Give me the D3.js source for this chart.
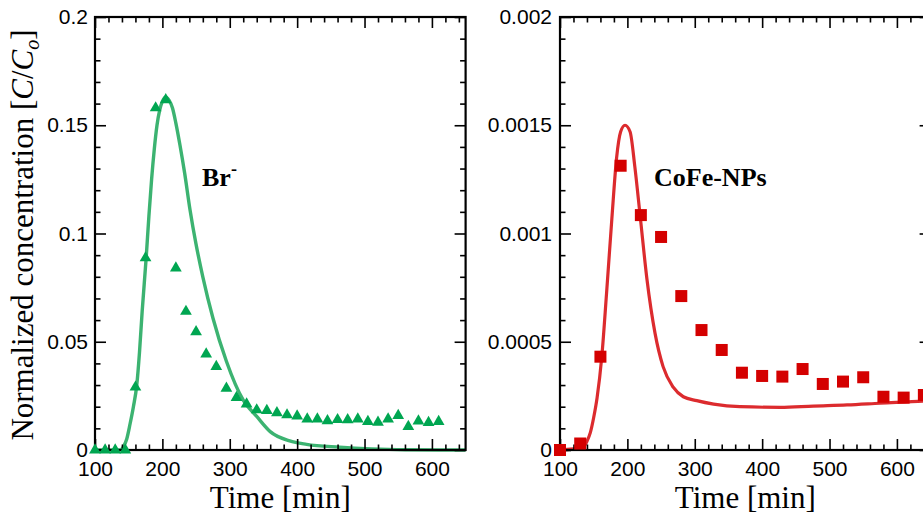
<!DOCTYPE html>
<html>
<head>
<meta charset="utf-8">
<script src="https://cdn.jsdelivr.net/npm/d3@7"></script>
<style>
  html, body { margin: 0; padding: 0; background: #fff; }
  svg { display: block; }
</style>
</head>
<body>
<svg id="chart" width="923" height="519"></svg>
<script>
// ---- Bromide tracer (left panel) ----
const brTime = [100,115,130,145,160,175,190,205,220,235,250,265,280,295,310,325,340,355,370,385,400,415,430,445,460,475,490,505,520,535,550,565,580,595,610];
const brObserved = [0,0,0,0,0.029,0.0887,0.158,0.1617,0.084,0.064,0.0546,0.0443,0.0385,0.0285,0.0242,0.0212,0.0185,0.0182,0.0172,0.0162,0.0157,0.0143,0.0143,0.0135,0.014,0.0139,0.0143,0.0131,0.0128,0.0143,0.0159,0.0108,0.0134,0.0127,0.0131];
const brModelTime = [100,138,142,147,152,157,162,166,170,176,180,184,188,192,196,200,205,210,215,220,226,233,241,250,260,275,295,320,340,360,389,414,463,510,560,650];
const brModel = [0,0,0.0015,0.005,0.012,0.02,0.03,0.045,0.064,0.089,0.108,0.125,0.139,0.15,0.157,0.161,0.163,0.1615,0.158,0.151,0.141,0.128,0.111,0.095,0.08,0.061,0.041,0.023,0.0155,0.0085,0.0042,0.0026,0.0013,0.0005,0.0001,0];

// ---- CoFe nanoparticles (right panel) ----
const npTime = [100,130,160,190,220,250,280,310,340,370,400,430,460,490,520,550,580,610,640];
const npObserved = [0,0.00003,0.000431,0.001313,0.001085,0.000984,0.000711,0.000554,0.000462,0.000357,0.000342,0.000339,0.000374,0.000305,0.000316,0.000336,0.000246,0.000242,0.000254];
const npModelTime = [100,134,140,145,150,155,162,169,177,184,190,196.5,204,211,219,229,241,253,268,283,303,328,367,427,476,526,575,640,650];
const npModel = [0,0.000012,0.00004,0.00008,0.00015,0.00024,0.00043,0.00072,0.00107,0.00135,0.00147,0.0015,0.00147,0.00131,0.00108,0.00079,0.00054,0.000385,0.00029,0.000246,0.000228,0.000212,0.0002,0.000197,0.000203,0.000208,0.000216,0.000226,0.000228];

// ---- Axis ticks ----
const xMajor = [100,200,300,400,500,600];
const xMajorLabels = ["100","200","300","400","500","600"];
const brYMajor = [0,0.05,0.1,0.15,0.2];
const brYLabels = ["0","0.05","0.1","0.15","0.2"];
const npYMajor = [0,0.0005,0.001,0.0015,0.002];
const npYLabels = ["0","0.0005","0.001","0.0015","0.002"];

const svg = d3.select("#chart");

const SANS = "'Liberation Sans', Arial, Helvetica, sans-serif";
const SERIF = "'Liberation Serif', 'Times New Roman', Times, serif";

function panel(cfg) {
  const x = d3.scaleLinear().domain([100, 650]).range([cfg.left, cfg.left + 370.6]);
  const y = d3.scaleLinear().domain([0, cfg.yMax]).range([450, 17]);
  const [x0, x1] = x.range();
  const [y0, y1] = y.range();

  const xMinor = d3.range(100, 651, 20).filter(v => !xMajor.includes(v));
  const yMinor = d3.range(0, 21).map(i => i * cfg.yMax / 20).filter((v, i) => i % 5 !== 0);

  const g = svg.append("g");

  // model curve
  const line = d3.line().x(d => x(d[0])).y(d => y(d[1])).curve(d3.curveMonotoneX);
  g.append("path")
    .datum(d3.zip(cfg.modelT, cfg.model))
    .attr("d", line)
    .attr("fill", "none")
    .attr("stroke", cfg.lineColor)
    .attr("stroke-width", cfg.lineWidth)
    .attr("stroke-linejoin", "round");

  // axes with inward ticks on all four sides
  function styleAxis(sel) {
    sel.select(".domain").remove();
    sel.selectAll(".tick line").attr("stroke", "#000").attr("stroke-width", 1.6);
    sel.selectAll(".tick text").attr("fill", "#000").style("font-family", SANS).style("font-size", "21px");
  }
  const mk = (axis, minor) => axis.tickSizeOuter(0).tickSize(minor ? -5.5 : -11);

  g.append("g").attr("transform", `translate(0,${y0})`)
    .call(mk(d3.axisBottom(x), false).tickValues(xMajor).tickPadding(11).tickFormat((d, i) => xMajorLabels[i]))
    .call(styleAxis);
  g.append("g").attr("transform", `translate(0,${y0})`)
    .call(mk(d3.axisBottom(x), true).tickValues(xMinor).tickFormat(""))
    .call(styleAxis);
  g.append("g").attr("transform", `translate(0,${y1})`)
    .call(mk(d3.axisTop(x), false).tickValues(xMajor).tickFormat(""))
    .call(styleAxis);
  g.append("g").attr("transform", `translate(0,${y1})`)
    .call(mk(d3.axisTop(x), true).tickValues(xMinor).tickFormat(""))
    .call(styleAxis);

  g.append("g").attr("transform", `translate(${x0},0)`)
    .call(mk(d3.axisLeft(y), false).tickValues(cfg.yMajor).tickPadding(cfg.yPad).tickFormat((d, i) => cfg.yLabels[i]))
    .call(styleAxis);
  g.append("g").attr("transform", `translate(${x0},0)`)
    .call(mk(d3.axisLeft(y), true).tickValues(yMinor).tickFormat(""))
    .call(styleAxis);
  g.append("g").attr("transform", `translate(${x1},0)`)
    .call(mk(d3.axisRight(y), false).tickValues(cfg.yMajor).tickFormat(""))
    .call(styleAxis);
  g.append("g").attr("transform", `translate(${x1},0)`)
    .call(mk(d3.axisRight(y), true).tickValues(yMinor).tickFormat(""))
    .call(styleAxis);

  // frame
  g.append("rect")
    .attr("x", x0).attr("y", y1)
    .attr("width", x1 - x0).attr("height", y0 - y1)
    .attr("fill", "none").attr("stroke", "#000").attr("stroke-width", 2.2);

  // observed data
  const pts = d3.zip(cfg.obsT, cfg.obs);
  if (cfg.marker === "triangle") {
    const sym = d3.symbol().type(d3.symbolTriangle).size(60);
    g.append("g").selectAll("path").data(pts).join("path")
      .attr("transform", d => `translate(${x(d[0])},${y(d[1])})`)
      .attr("d", sym)
      .attr("fill", cfg.markerColor);
  } else {
    const s = 12;
    g.append("g").selectAll("rect").data(pts).join("rect")
      .attr("x", d => x(d[0]) - s / 2)
      .attr("y", d => y(d[1]) - s / 2)
      .attr("width", s).attr("height", s)
      .attr("fill", cfg.markerColor);
  }

  // x title
  g.append("text")
    .attr("x", (x0 + x1) / 2).attr("y", 508)
    .attr("text-anchor", "middle")
    .style("font-family", SERIF).style("font-size", "31px")
    .text("Time [min]");

  // species label
  const lab = g.append("text")
    .attr("x", cfg.labelX).attr("y", 186)
    .style("font-family", SERIF).style("font-size", "26px").style("font-weight", "bold");
  lab.append("tspan").text(cfg.label);
  if (cfg.labelSup) {
    lab.append("tspan").attr("dy", -11).style("font-size", "18px").text(cfg.labelSup);
  }
  return g;
}

panel({
  left: 95, yMax: 0.2, yMajor: brYMajor, yLabels: brYLabels, yPad: 7,
  modelT: brModelTime, model: brModel, obsT: brTime, obs: brObserved,
  lineColor: "#3cb371", lineWidth: 3.4, marker: "triangle", markerColor: "#00a651",
  label: "Br", labelSup: "-", labelX: 202
});

panel({
  left: 560, yMax: 0.002, yMajor: npYMajor, yLabels: npYLabels, yPad: 8,
  modelT: npModelTime, model: npModel, obsT: npTime, obs: npObserved,
  lineColor: "#dc2b2e", lineWidth: 3.2, marker: "square", markerColor: "#d40000",
  label: "CoFe-NPs", labelSup: null, labelX: 654
});

// shared y title
const yt = svg.append("text")
  .attr("transform", "translate(33,235) rotate(-90)")
  .attr("text-anchor", "middle")
  .style("font-family", SERIF).style("font-size", "31px");
yt.append("tspan").text("Normalized concentration [");
yt.append("tspan").style("font-style", "italic").text("C");
yt.append("tspan").text("/");
yt.append("tspan").style("font-style", "italic").text("C");
yt.append("tspan").style("font-style", "italic").style("font-size", "20px").attr("dy", 6).text("o");
yt.append("tspan").attr("dy", -6).text("]");
</script>
</body>
</html>
